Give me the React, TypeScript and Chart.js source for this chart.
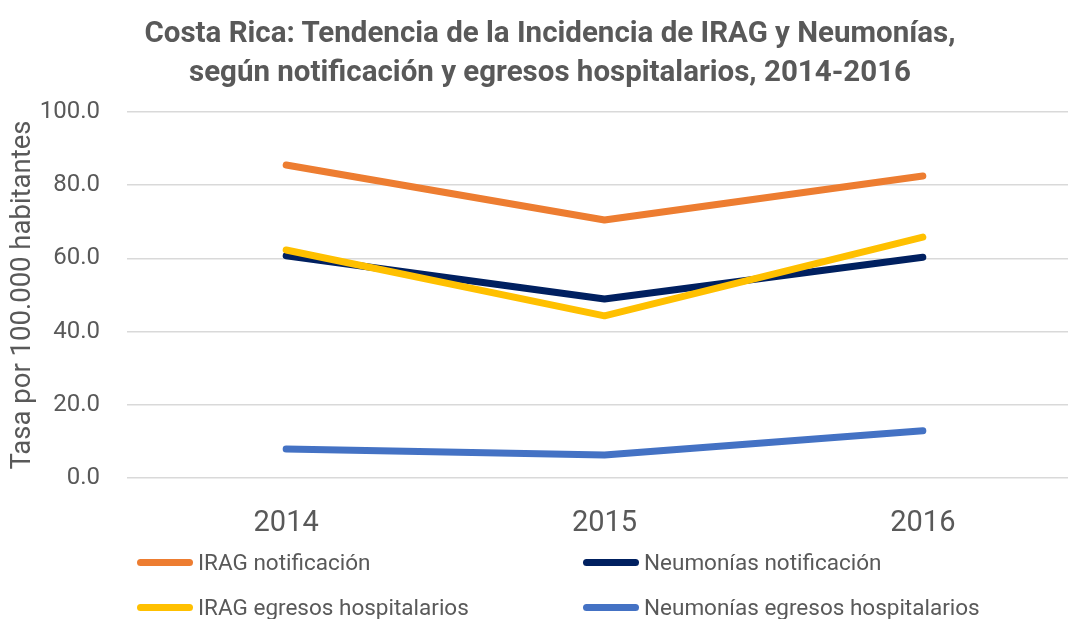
import React, { useEffect, useRef } from "react";
import { Chart, registerables } from "chart.js";

Chart.register(...registerables);

const categories = ["2014", "2015", "2016"];
const iragNotificacion = [85.5, 70.5, 82.5];
const neumoniasNotificacion = [60.7, 48.9, 60.3];
const iragEgresos = [62.3, 44.3, 65.8];
const neumoniasEgresos = [7.9, 6.3, 12.9];

const seriesNames = [
  "IRAG notificación",
  "Neumonías notificación",
  "IRAG egresos hospitalarios",
  "Neumonías egresos hospitalarios",
];
const seriesColors = ["#ED7D31", "#002060", "#FFC000", "#4472C4"];

const titleLines = [
  "Costa Rica: Tendencia de la Incidencia de IRAG y Neumonías,",
  "según notificación y egresos hospitalarios, 2014-2016",
];
const yTitle = "Tasa por 100.000 habitantes";

const FONT = "Roboto, 'Open Sans', sans-serif";
const TEXT = "#595959";

export default function App() {
  const ref = useRef<HTMLCanvasElement | null>(null);

  useEffect(() => {
    if (!ref.current) return;
    const values = [iragNotificacion, neumoniasNotificacion, iragEgresos, neumoniasEgresos];
    const chart = new Chart(ref.current, {
      type: "line",
      data: {
        labels: categories,
        datasets: values.map((v, i) => ({
          label: seriesNames[i],
          data: v,
          borderColor: seriesColors[i],
          backgroundColor: seriesColors[i],
          borderWidth: 7,
          pointRadius: 0,
          borderCapStyle: "round" as const,
          borderJoinStyle: "round" as const,
          tension: 0,
          order: 4 - i,
        })),
      },
      options: {
        animation: false,
        responsive: true,
        maintainAspectRatio: false,
        layout: { padding: { left: 0, right: 0, top: 112, bottom: 0 } },
        plugins: {
          legend: { display: false },
          tooltip: { enabled: false },
          title: { display: false },
        },
        scales: {
          x: {
            offset: true,
            grid: { display: false, drawTicks: false },
            border: { display: false },
            ticks: { color: TEXT, font: { family: FONT, size: 29 }, padding: 28 },
            afterFit: (s: any) => {
              s.height = 141;
            },
          },
          y: {
            min: 0,
            max: 100,
            grid: { color: "#D9D9D9", lineWidth: 1.5, drawTicks: false },
            border: { display: false },
            ticks: {
              stepSize: 20,
              color: TEXT,
              padding: 27,
              font: { family: FONT, size: 24 },
              callback: (v: any) => Number(v).toFixed(1),
            },
            title: {
              display: true,
              text: yTitle,
              color: TEXT,
              font: { family: FONT, size: 27.5 },
              padding: { top: 7, bottom: 0 },
            },
            afterFit: (s: any) => {
              s.width = 127;
            },
          },
        },
      },
    });
    return () => chart.destroy();
  }, []);

  const legendPos = [
    { left: 137, top: 562 },
    { left: 583, top: 562 },
    { left: 137, top: 607 },
    { left: 583, top: 607 },
  ];

  return (
    <div
      style={{
        position: "fixed",
        left: 0,
        top: 0,
        width: 1068,
        height: 619,
        overflow: "hidden",
        background: "#fff",
      }}
    >
      <div style={{ position: "absolute", left: 0, top: 0, width: 1082, height: 619 }}>
        <canvas ref={ref} />
      </div>
      <div
        style={{
          position: "absolute",
          left: 0,
          top: 13,
          width: 1100,
          textAlign: "center",
          fontFamily: FONT,
          fontWeight: "bold",
          fontSize: 29.5,
          lineHeight: "39px",
          color: TEXT,
          whiteSpace: "nowrap",
        }}
      >
        {titleLines.map((t) => (
          <div key={t}>{t}</div>
        ))}
      </div>
      {seriesNames.map((name, i) => (
        <div
          key={name}
          style={{
            position: "absolute",
            left: legendPos[i].left,
            top: legendPos[i].top - 16,
            height: 32,
            display: "flex",
            alignItems: "center",
            fontFamily: FONT,
            fontSize: 22.5,
            color: TEXT,
            whiteSpace: "nowrap",
          }}
        >
          <span
            style={{
              display: "inline-block",
              width: 56,
              height: 7,
              borderRadius: 4,
              background: seriesColors[i],
              marginRight: 5,
            }}
          />
          {name}
        </div>
      ))}
    </div>
  );
}
